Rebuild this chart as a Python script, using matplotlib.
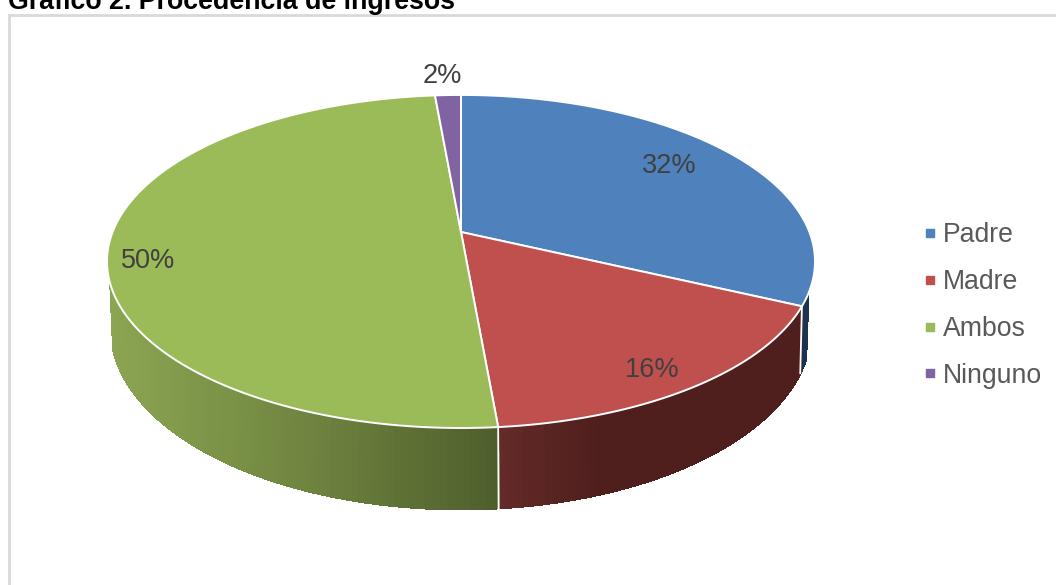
import numpy as np
import matplotlib
matplotlib.use("Agg")
import matplotlib.pyplot as plt
from matplotlib.collections import PolyCollection
from matplotlib.lines import Line2D

plt.rcParams['font.family'] = ['Liberation Sans', 'DejaVu Sans']

title = "Gráfico 2. Procedencia de ingresos"
categories = ["Padre", "Madre", "Ambos", "Ninguno"]
values = [32.0, 16.6, 50.0, 1.4]
value_labels = ["32%", "16%", "50%", "2%"]
top_colors = ["#4F81BD", "#C0504D", "#9BBB59", "#8064A2"]

fig = plt.figure(figsize=(10.56, 5.85), dpi=100)
ax = fig.add_axes([0, 0, 1, 1])
ax.set_xlim(0, 1056)
ax.set_ylim(585, 0)
ax.axis("off")


def top_pt(theta):
    X, Y = np.sin(theta), np.cos(theta)
    w = 1 + 0.177 * Y
    return 461 + 348.4 * X / w, 232 - 161.3 * Y / w


def bot_pt(theta):
    X, Y = np.sin(theta), np.cos(theta)
    w = 1 + 0.2 * Y
    return 461 + 343 * X / w, 292.6 - 173.3 * Y / w


def wall_color(idx, x):
    stops = {
        0: ([780, 815], [(27, 50, 80), (27, 50, 80)]),
        1: ([498, 600, 815], [(100, 42, 40), (78, 31, 29), (78, 31, 29)]),
        2: ([108, 300, 498], [(140, 165, 82), (112, 134, 64), (78, 94, 44)]),
        3: ([0, 1056], [(60, 45, 80), (60, 45, 80)]),
    }[idx]
    return tuple(np.interp(x, stops[0], [c[i] for c in stops[1]]) / 255 for i in range(3))


edges = np.radians(np.concatenate([[0], np.cumsum(values)]) * 3.6)
wall_lo, wall_hi = np.radians(111), np.radians(252)

# side wall, drawn as the area between the two rims in thin strips
for i in range(len(values)):
    a, b = max(edges[i], wall_lo), min(edges[i + 1], wall_hi)
    if b <= a:
        continue
    ts = np.linspace(a, b, max(2, int(np.degrees(b - a))))
    polys, cols = [], []
    for t0, t1 in zip(ts[:-1], ts[1:]):
        sub = np.linspace(t0, t1, 6)
        tx, ty = top_pt(sub)
        bx, by = bot_pt(sub)
        polys.append(np.column_stack([np.r_[tx, bx[::-1]], np.r_[ty, by[::-1]]]))
        cols.append(wall_color(i, tx.mean()))
    ax.add_collection(PolyCollection(polys, facecolors=cols, edgecolors=cols, linewidths=1.0,
                                     antialiaseds=False, zorder=2))

# white seams on the wall
for e in edges[1:3]:
    x0, y0 = top_pt(e)
    x1, y1 = bot_pt(e)
    ax.plot([x0, x1], [y0, y1], color="white", lw=1.3, zorder=3)

# top face
for i in range(len(values)):
    ts = np.linspace(edges[i], edges[i + 1], 200)
    xs, ys = top_pt(ts)
    verts = np.column_stack([np.r_[461, xs], np.r_[232, ys]])
    ax.fill(verts[:, 0], verts[:, 1], facecolor=top_colors[i], edgecolor="white",
            lw=1.4, joinstyle="round", zorder=4)

# value labels
label_xy = [(669, 166), (652, 370), (148, 261), (442, 76)]
for s, (x, y) in zip(value_labels, label_xy):
    ax.text(x, y, s, fontsize=19.5, color="#404040", ha="center", va="center", zorder=5)

# title and chart frame
ax.text(8, 9, title, fontsize=19.3, fontweight="bold", color="black", ha="left", va="baseline", clip_on=False)
ax.plot([9, 9, 1056], [585, 15, 15], color="#D9D9D9", lw=2.0, solid_joinstyle="miter", zorder=1)

handles = [Line2D([], [], ls="none", marker="s", ms=5.8, mfc=c, mec=c) for c in top_colors]
ax.legend(handles, categories, loc="center left", bbox_to_anchor=(917, 305.6),
          bbox_transform=ax.transData, frameon=False, fontsize=19.2, labelcolor="#595959",
          labelspacing=0.78, handletextpad=-0.03, handlelength=1.0, borderpad=0, borderaxespad=0)

fig.savefig("out.png", dpi=100)
